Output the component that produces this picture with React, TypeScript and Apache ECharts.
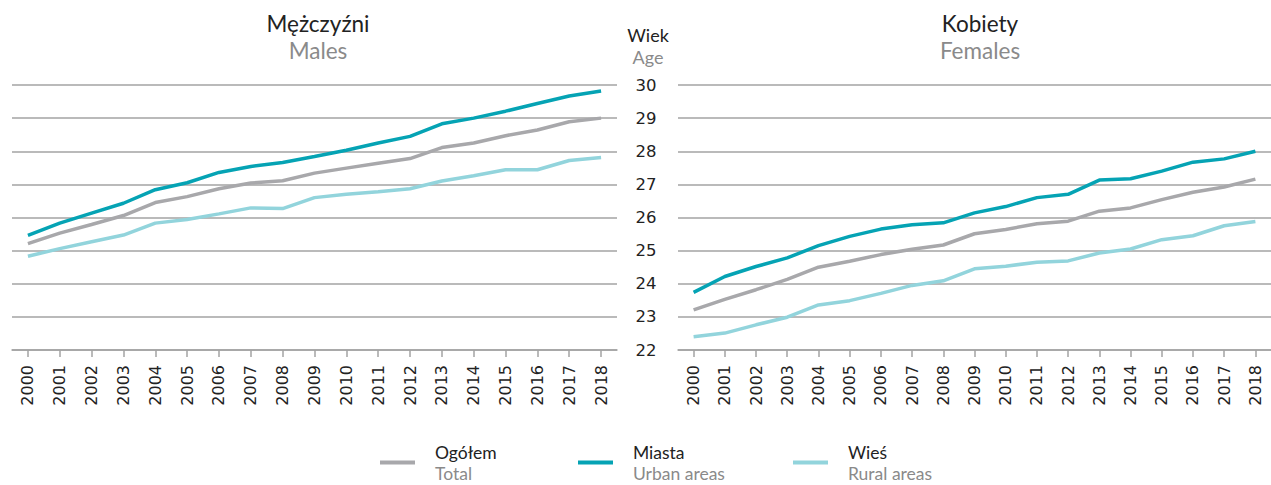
import React, { useEffect, useRef } from "react";
import * as echarts from "echarts";

const years = ["2000","2001","2002","2003","2004","2005","2006","2007","2008","2009","2010","2011","2012","2013","2014","2015","2016","2017","2018"];

const malesTotal = [25.21,25.53,25.79,26.06,26.45,26.63,26.87,27.04,27.11,27.34,27.49,27.64,27.78,28.11,28.25,28.47,28.64,28.89,29.0];
const malesUrban = [25.46,25.83,26.13,26.43,26.84,27.05,27.36,27.54,27.66,27.84,28.03,28.25,28.45,28.83,29.0,29.21,29.44,29.67,29.82];
const malesRural = [24.83,25.06,25.27,25.47,25.83,25.94,26.11,26.29,26.27,26.6,26.7,26.78,26.87,27.1,27.26,27.44,27.44,27.72,27.81];

const femalesTotal = [23.21,23.53,23.82,24.13,24.5,24.68,24.88,25.04,25.17,25.51,25.64,25.81,25.89,26.19,26.29,26.54,26.76,26.92,27.16];
const femalesUrban = [23.74,24.22,24.52,24.78,25.15,25.43,25.65,25.78,25.84,26.14,26.33,26.6,26.7,27.13,27.17,27.4,27.67,27.77,28.0];
const femalesRural = [22.4,22.51,22.76,22.99,23.36,23.49,23.71,23.95,24.09,24.45,24.53,24.65,24.69,24.93,25.05,25.33,25.45,25.75,25.88];

const seriesNames = ["Ogółem", "Miasta", "Wieś"];
const seriesNamesEn = ["Total", "Urban areas", "Rural areas"];
const colors = ["#a8a8ab", "#05a3b4", "#92d4dc"];

const FONT = "Lato, 'Noto Sans', sans-serif";
const NUMFONT = "'DejaVu Sans', sans-serif";
const DARK = "#222222";
const GRAY = "#8a8a8a";
const GRID = "#a3a3a3";

export default function App() {
  const ref = useRef<HTMLDivElement>(null);
  useEffect(() => {
    if (!ref.current) return;
    const chart = echarts.init(ref.current, undefined, { renderer: "svg" });
    const xAxisBase = (gridIndex: number) => ({
      type: "category" as const,
      gridIndex,
      data: years,
      boundaryGap: true,
      axisLine: { show: true, lineStyle: { color: GRID, width: 1.5 } },
      axisTick: { show: true, alignWithLabel: true, length: 7, lineStyle: { color: GRID, width: 1.5 } },
      axisLabel: { rotate: 90, color: DARK, fontSize: 16, fontFamily: NUMFONT, margin: 15, interval: 0 },
    });
    const yAxisBase = (gridIndex: number, showLabel: boolean) => ({
      type: "value" as const,
      gridIndex,
      min: 22,
      max: 30,
      interval: 1,
      axisLine: { show: false },
      axisTick: { show: false },
      splitLine: { show: true, lineStyle: { color: GRID, width: 1.5 } },
      axisLabel: {
        show: showLabel,
        color: DARK,
        fontSize: 16.5,
        fontFamily: NUMFONT,
        align: "center" as const,
        margin: 32,
      },
    });
    const groups = [
      [malesTotal, malesUrban, malesRural],
      [femalesTotal, femalesUrban, femalesRural],
    ];
    const series: any[] = [];
    groups.forEach((g, gi) => {
      g.forEach((d, si) => {
        series.push({
          type: "line",
          name: seriesNames[si],
          xAxisIndex: gi,
          yAxisIndex: gi,
          data: d,
          symbol: "none",
          lineStyle: { color: colors[si], width: 3.5 },
          itemStyle: { color: colors[si] },
          z: si === 1 ? 4 : 3,
        });
      });
    });
    const legendLefts = [380, 578, 793];
    const legends = seriesNames.map((n, i) => ({
      data: [n],
      left: legendLefts[i],
      top: 443,
      padding: 0,
      icon: "rect",
      itemWidth: 35,
      itemHeight: 4,
      itemGap: 0,
      formatter: () => `{a|${seriesNames[i]}}\n{b|${seriesNamesEn[i]}}`,
      textStyle: {
        padding: [0, 0, 0, 15],
        rich: {
          a: { color: DARK, fontSize: 17.5, fontFamily: FONT, lineHeight: 22 },
          b: { color: GRAY, fontSize: 17.5, fontFamily: FONT, lineHeight: 21 },
        },
      },
    }));
    const titleStyle = { color: DARK, fontSize: 22.5, fontFamily: FONT, fontWeight: "normal" as const, lineHeight: 24 };
    const subStyle = { color: GRAY, fontSize: 22.5, fontFamily: FONT, lineHeight: 24 };
    chart.setOption({
      animation: false,
      title: [
        { text: "Mężczyźni", subtext: "Males", left: 318, top: 11, padding: 0, textAlign: "center", itemGap: 3, textStyle: titleStyle, subtextStyle: subStyle },
        { text: "Kobiety", subtext: "Females", left: 980, top: 11, padding: 0, textAlign: "center", itemGap: 3, textStyle: titleStyle, subtextStyle: subStyle },
        { text: "Wiek", subtext: "Age", left: 648, top: 25, padding: 0, textAlign: "center", itemGap: 2, textStyle: { ...titleStyle, fontSize: 18, lineHeight: 20 }, subtextStyle: { ...subStyle, fontSize: 18, lineHeight: 20 } },
      ],
      legend: legends,
      grid: [
        { left: 12, top: 85, width: 605, height: 265, containLabel: false },
        { left: 678, top: 85, width: 603, height: 265, containLabel: false },
      ],
      xAxis: [xAxisBase(0), xAxisBase(1)],
      yAxis: [yAxisBase(0, false), yAxisBase(1, true)],
      series,
    });
    return () => chart.dispose();
  }, []);
  return (
    <div
      ref={ref}
      style={{ position: "fixed", left: 0, top: 0, width: 1271, height: 485, background: "#ffffff" }}
    />
  );
}
